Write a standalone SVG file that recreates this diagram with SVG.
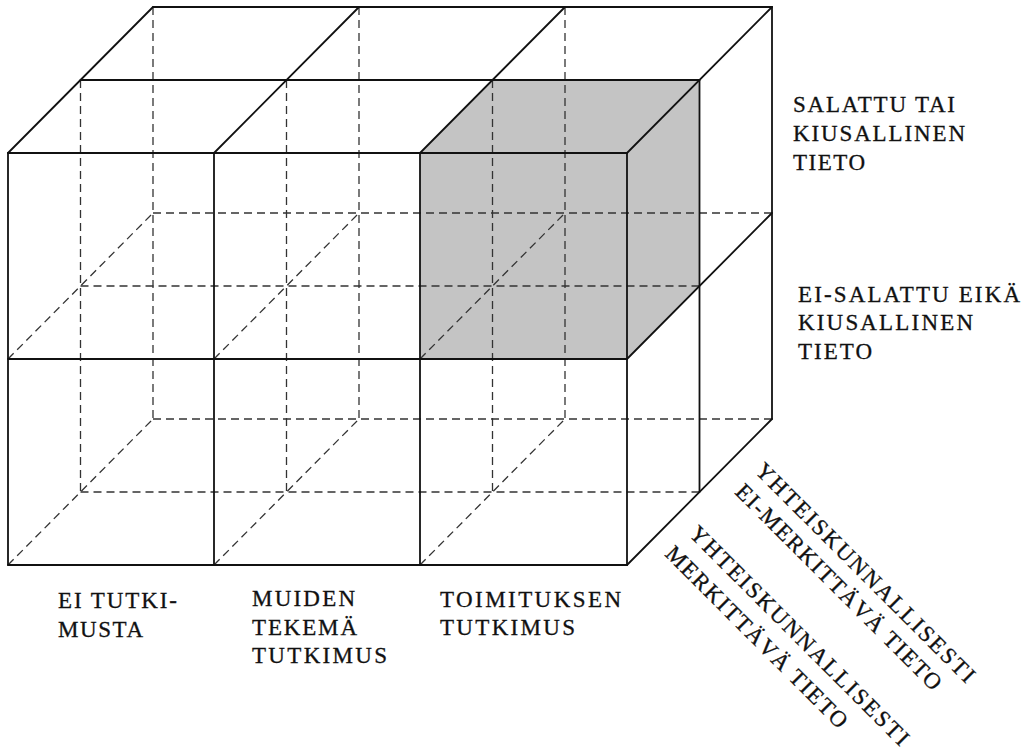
<svg xmlns="http://www.w3.org/2000/svg" width="1026" height="751" viewBox="0 0 1026 751">
<style>
.s{fill:none;stroke:#111;stroke-width:1.8;stroke-linecap:round;stroke-linejoin:round}
.h{fill:none;stroke:#333;stroke-width:1.3;stroke-dasharray:8 5}
text{font-family:"Liberation Serif","Times New Roman",serif;font-size:23px;fill:#111;stroke:#111;stroke-width:0.3}
</style>
<rect width="1026" height="751" fill="#fff"/>
<g id="shaded-cell">
<polygon points="420,153 492.5,80 699.5,80 699.5,286 627,359 420,359" fill="#c4c4c4"/>
</g>
<g id="hidden-edges" class="h">
<line x1="80.5" y1="286" x2="699.5" y2="286"/>
<line x1="153" y1="213" x2="772" y2="213"/>
<line x1="80.5" y1="492" x2="699.5" y2="492"/>
<line x1="153" y1="419" x2="772" y2="419"/>
<line x1="80.5" y1="80" x2="80.5" y2="492"/>
<line x1="286.5" y1="80" x2="286.5" y2="492"/>
<line x1="492.5" y1="80" x2="492.5" y2="492"/>
<line x1="153" y1="7" x2="153" y2="419"/>
<line x1="359" y1="7" x2="359" y2="419"/>
<line x1="565" y1="7" x2="565" y2="419"/>
<line x1="8" y1="359" x2="153" y2="213"/>
<line x1="214" y1="359" x2="359" y2="213"/>
<line x1="420" y1="359" x2="565" y2="213"/>
<line x1="8" y1="565" x2="153" y2="419"/>
<line x1="214" y1="565" x2="359" y2="419"/>
<line x1="420" y1="565" x2="565" y2="419"/>
</g>
<g id="visible-edges" class="s">
<line x1="8" y1="153" x2="627" y2="153"/>
<line x1="8" y1="359" x2="627" y2="359"/>
<line x1="8" y1="565" x2="627" y2="565"/>
<line x1="8" y1="153" x2="8" y2="565"/>
<line x1="214" y1="153" x2="214" y2="565"/>
<line x1="420" y1="153" x2="420" y2="565"/>
<line x1="627" y1="153" x2="627" y2="565"/>
<line x1="80.5" y1="80" x2="699.5" y2="80"/>
<line x1="153" y1="7" x2="772" y2="7"/>
<line x1="8" y1="153" x2="153" y2="7"/>
<line x1="214" y1="153" x2="359" y2="7"/>
<line x1="420" y1="153" x2="565" y2="7"/>
<line x1="627" y1="153" x2="772" y2="7"/>
<line x1="699.5" y1="80" x2="699.5" y2="492"/>
<line x1="772" y1="7" x2="772" y2="419"/>
<line x1="627" y1="359" x2="772" y2="213"/>
<line x1="627" y1="565" x2="772" y2="419"/>
</g>
<g id="label-ei-tutkimusta">
<text x="58" y="608" textLength="119" lengthAdjust="spacing">EI TUTKI-</text>
<text x="58" y="637" textLength="85" lengthAdjust="spacing">MUSTA</text>
</g>
<g id="label-muiden">
<text x="252" y="606" textLength="103" lengthAdjust="spacing">MUIDEN</text>
<text x="252" y="635" textLength="105" lengthAdjust="spacing">TEKEMÄ</text>
<text x="252" y="663" textLength="135" lengthAdjust="spacing">TUTKIMUS</text>
</g>
<g id="label-toimituksen">
<text x="440" y="607" textLength="181" lengthAdjust="spacing">TOIMITUKSEN</text>
<text x="440" y="635" textLength="135" lengthAdjust="spacing">TUTKIMUS</text>
</g>
<g id="label-salattu">
<text x="793" y="112" textLength="162" lengthAdjust="spacing">SALATTU TAI</text>
<text x="793" y="141" textLength="172" lengthAdjust="spacing">KIUSALLINEN</text>
<text x="793" y="170" textLength="72" lengthAdjust="spacing">TIETO</text>
</g>
<g id="label-ei-salattu">
<text x="798" y="302" textLength="222" lengthAdjust="spacing">EI-SALATTU EIKÄ</text>
<text x="798" y="330" textLength="175" lengthAdjust="spacing">KIUSALLINEN</text>
<text x="798" y="359" textLength="74" lengthAdjust="spacing">TIETO</text>
</g>
<g id="label-ei-merkittava">
<text transform="translate(754,472) rotate(45)" textLength="300" lengthAdjust="spacing">YHTEISKUNNALLISESTI</text>
<text transform="translate(734,493) rotate(45)" textLength="281" lengthAdjust="spacing">EI-MERKITTÄVÄ TIETO</text>
</g>
<g id="label-merkittava">
<text transform="translate(688,535) rotate(45)" textLength="300" lengthAdjust="spacing">YHTEISKUNNALLISESTI</text>
<text transform="translate(664,555) rotate(45)" textLength="247" lengthAdjust="spacing">MERKITTÄVÄ TIETO</text>
</g>
</svg>
